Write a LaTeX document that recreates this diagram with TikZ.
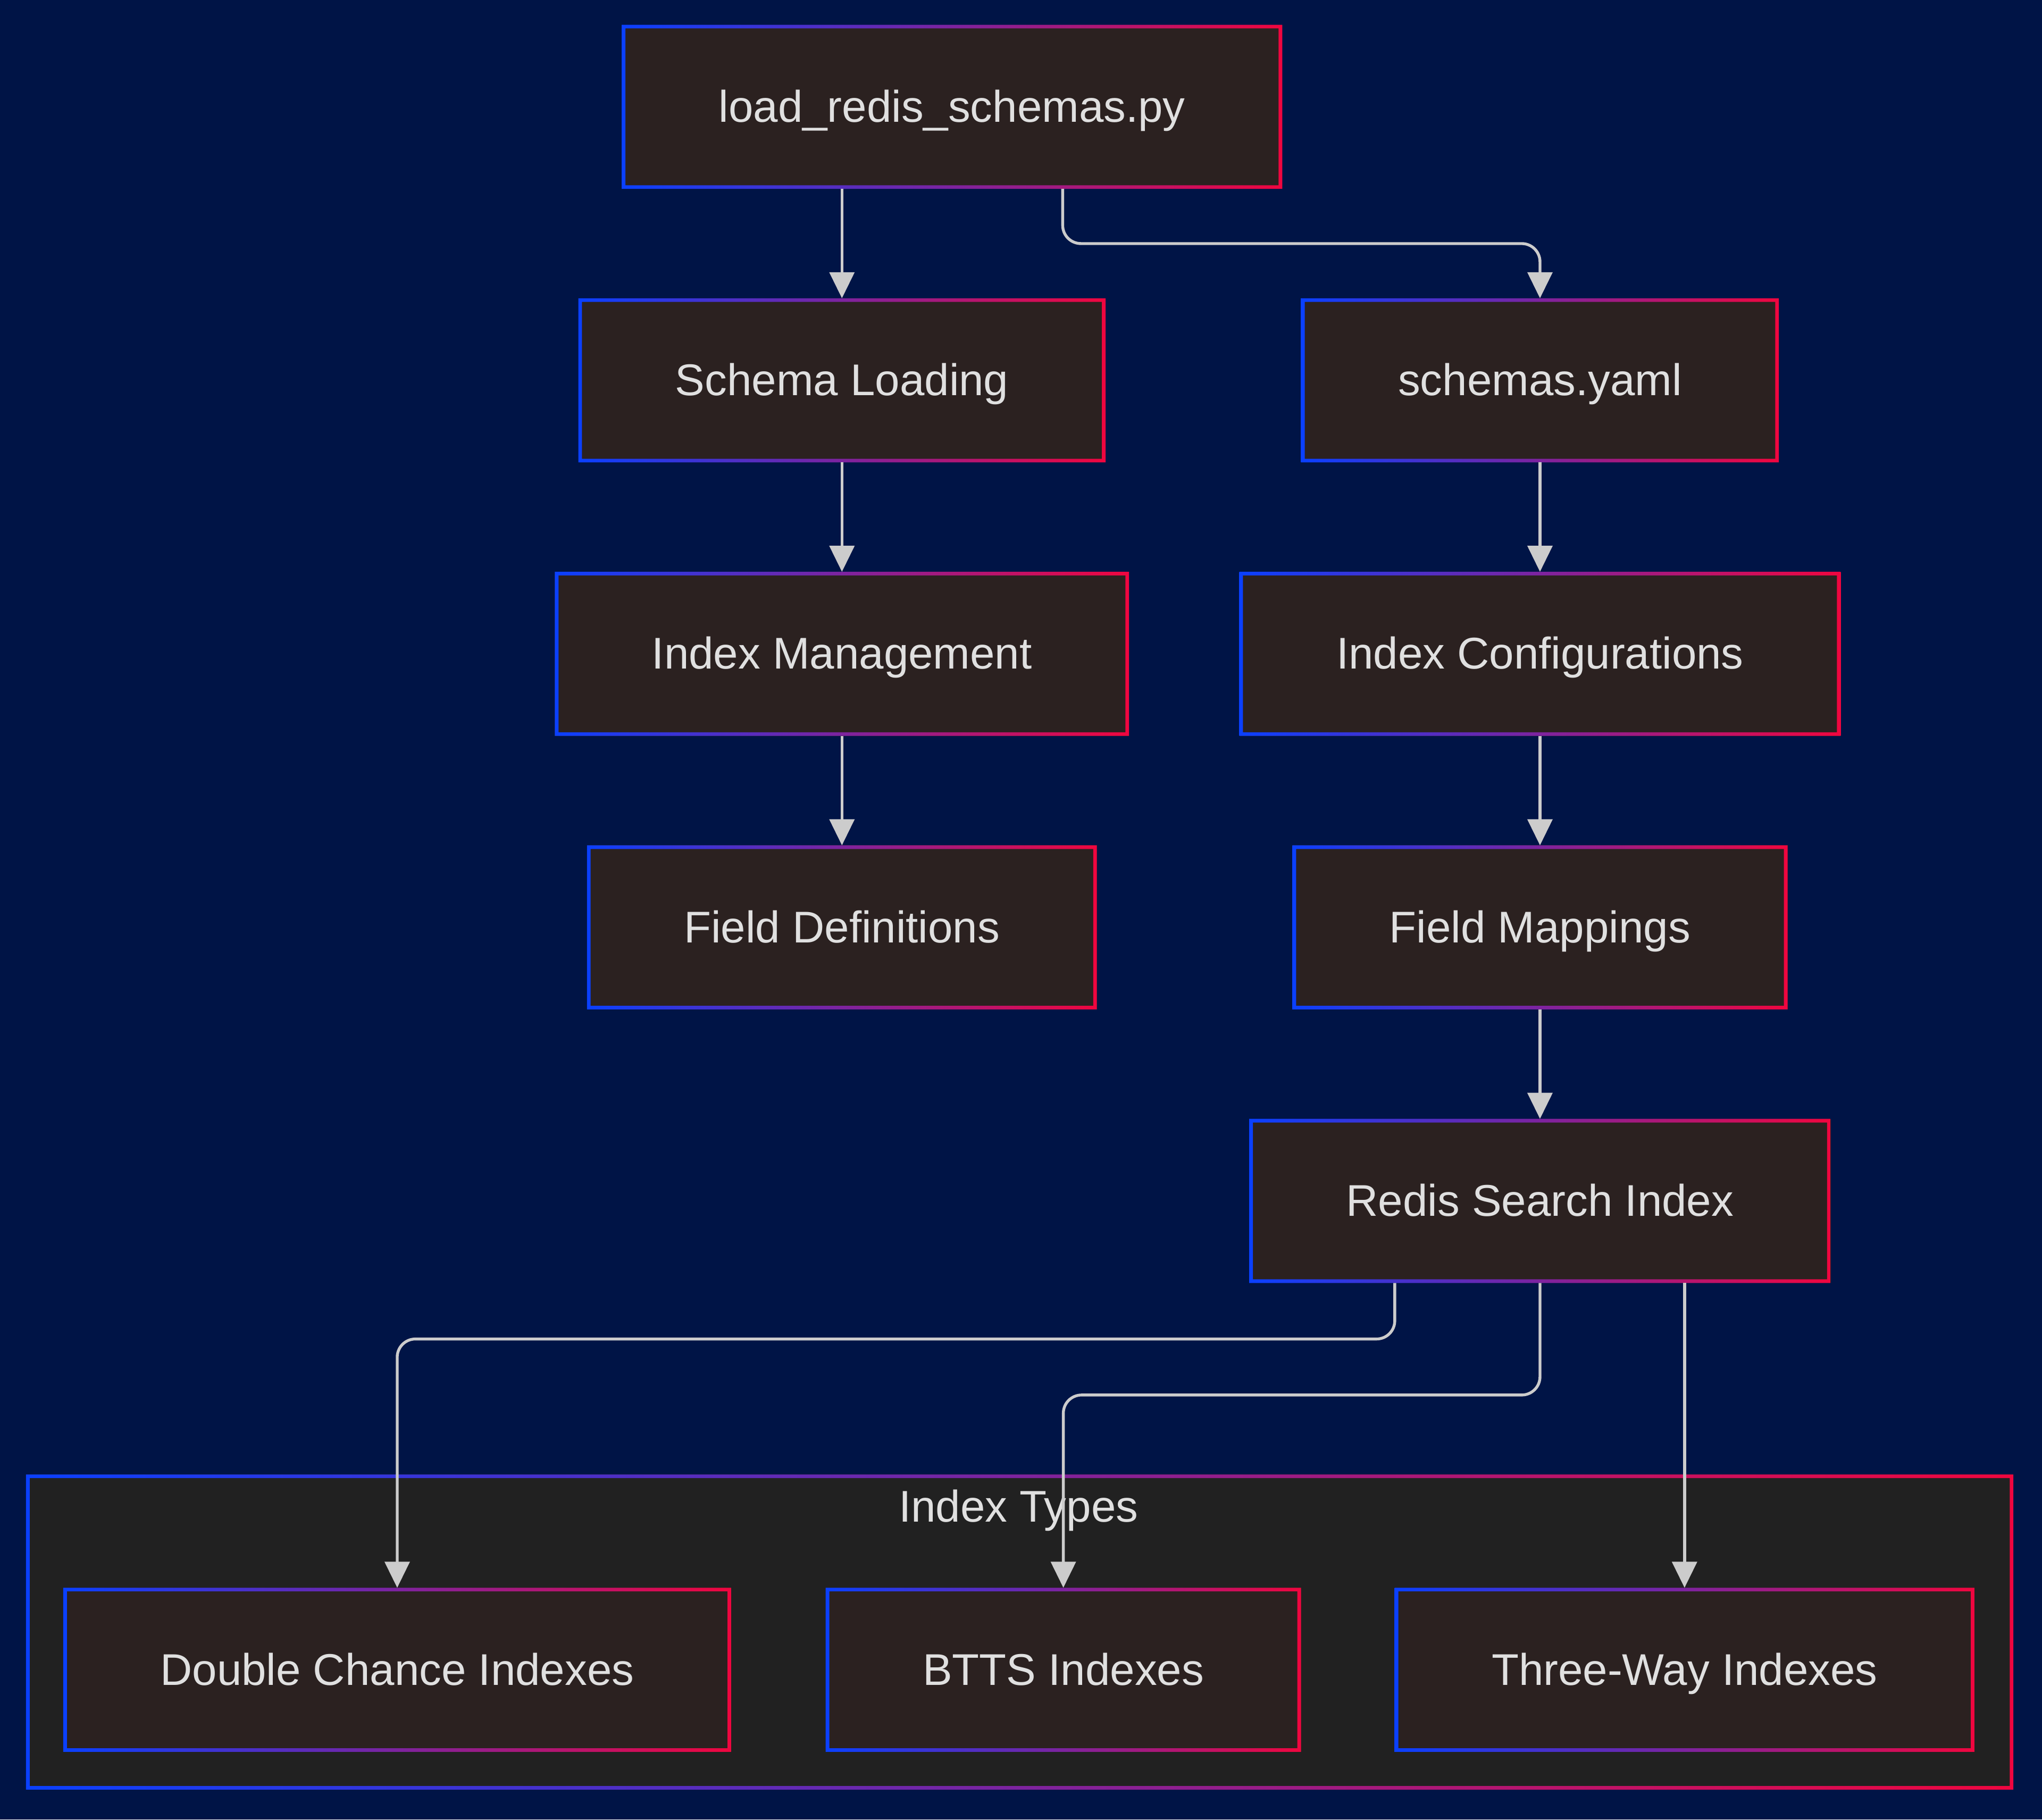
\documentclass[tikz,border=0pt]{standalone}
\usepackage{fontspec}
\setmainfont{Liberation Sans}
\usetikzlibrary{arrows.meta}
\definecolor{bgnavy}{HTML}{001446}
\definecolor{boxfill}{HTML}{2B2120}
\definecolor{clusterfill}{HTML}{212121}
\definecolor{cblue}{HTML}{0A40FF}
\definecolor{cred}{HTML}{F0063F}
\definecolor{txt}{HTML}{E0E0E0}
\definecolor{linegray}{HTML}{CCCCCC}
% gradient outline round a named node
\newcommand{\gframe}[1]{\shade[left color=cblue, right color=cred, even odd rule] (#1.south west) rectangle (#1.north east) ([shift={(0.028,0.028)}]#1.south west) rectangle ([shift={(-0.028,-0.028)}]#1.north east);}
\tikzset{
  box/.style={rectangle, fill=boxfill, text=txt, inner xsep=0.745cm, inner ysep=0pt, minimum height=1.26cm, outer sep=0pt, text height=1.65ex, text depth=0.4ex},
  link/.style={draw=linegray, line width=0.022cm, rounded corners=0.14cm, -{Triangle[width=0.19cm, length=0.2cm]}}
}
\begin{document}
\begin{tikzpicture}[font=\fontsize{9.7pt}{11.6pt}\selectfont, line join=round]
\fill[bgnavy] (0,0) rectangle (15.68,-13.97);
\useasboundingbox (0,0) rectangle (15.68,-13.97);
% cluster
\fill[clusterfill] (0.20,-11.32) rectangle (15.46,-13.74);
\shade[left color=cblue, right color=cred, even odd rule] (0.20,-11.32) rectangle (15.46,-13.74) (0.228,-11.348) rectangle (15.432,-13.712);
\node[text=txt, text height=1.65ex, text depth=0.4ex] (types) at (7.82,-11.57) {Index Types};
% nodes
\node[box] (load) at (7.31,-0.82) {load\_redis\_schemas.py};
\node[box] (sl) at (6.465,-2.92) {Schema Loading};
\node[box] (yaml) at (11.825,-2.92) {schemas.yaml};
\node[box] (im) at (6.465,-5.02) {Index Management};
\node[box] (ic) at (11.825,-5.02) {Index Configurations};
\node[box] (fd) at (6.465,-7.12) {Field Definitions};
\node[box] (fm) at (11.825,-7.12) {Field Mappings};
\node[box] (rsi) at (11.825,-9.22) {Redis Search Index};
\node[box] (dc) at (3.05,-12.82) {Double Chance Indexes};
\node[box] (btts) at (8.165,-12.82) {BTTS Indexes};
\node[box] (tw) at (12.935,-12.82) {Three-Way Indexes};
\foreach \n in {load,sl,yaml,im,ic,fd,fm,rsi,dc,btts,tw} {\gframe{\n}}
% connectors
\draw[link] (load.south -| sl.north) -- (sl.north);
\draw[link] ([xshift=0.85cm]load.south) -- ++(0,-0.42) -| (yaml.north);
\draw[link] (sl) -- (im);
\draw[link] (im) -- (fd);
\draw[link] (yaml) -- (ic);
\draw[link] (ic) -- (fm);
\draw[link] (fm) -- (rsi);
\draw[link] ([xshift=-1.115cm]rsi.south) -- ++(0,-0.43) -| (dc.north);
\draw[link] (rsi.south) -- ++(0,-0.86) -| (btts.north);
\draw[link] (rsi.south -| tw.north) -- (tw.north);
\end{tikzpicture}
\end{document}
